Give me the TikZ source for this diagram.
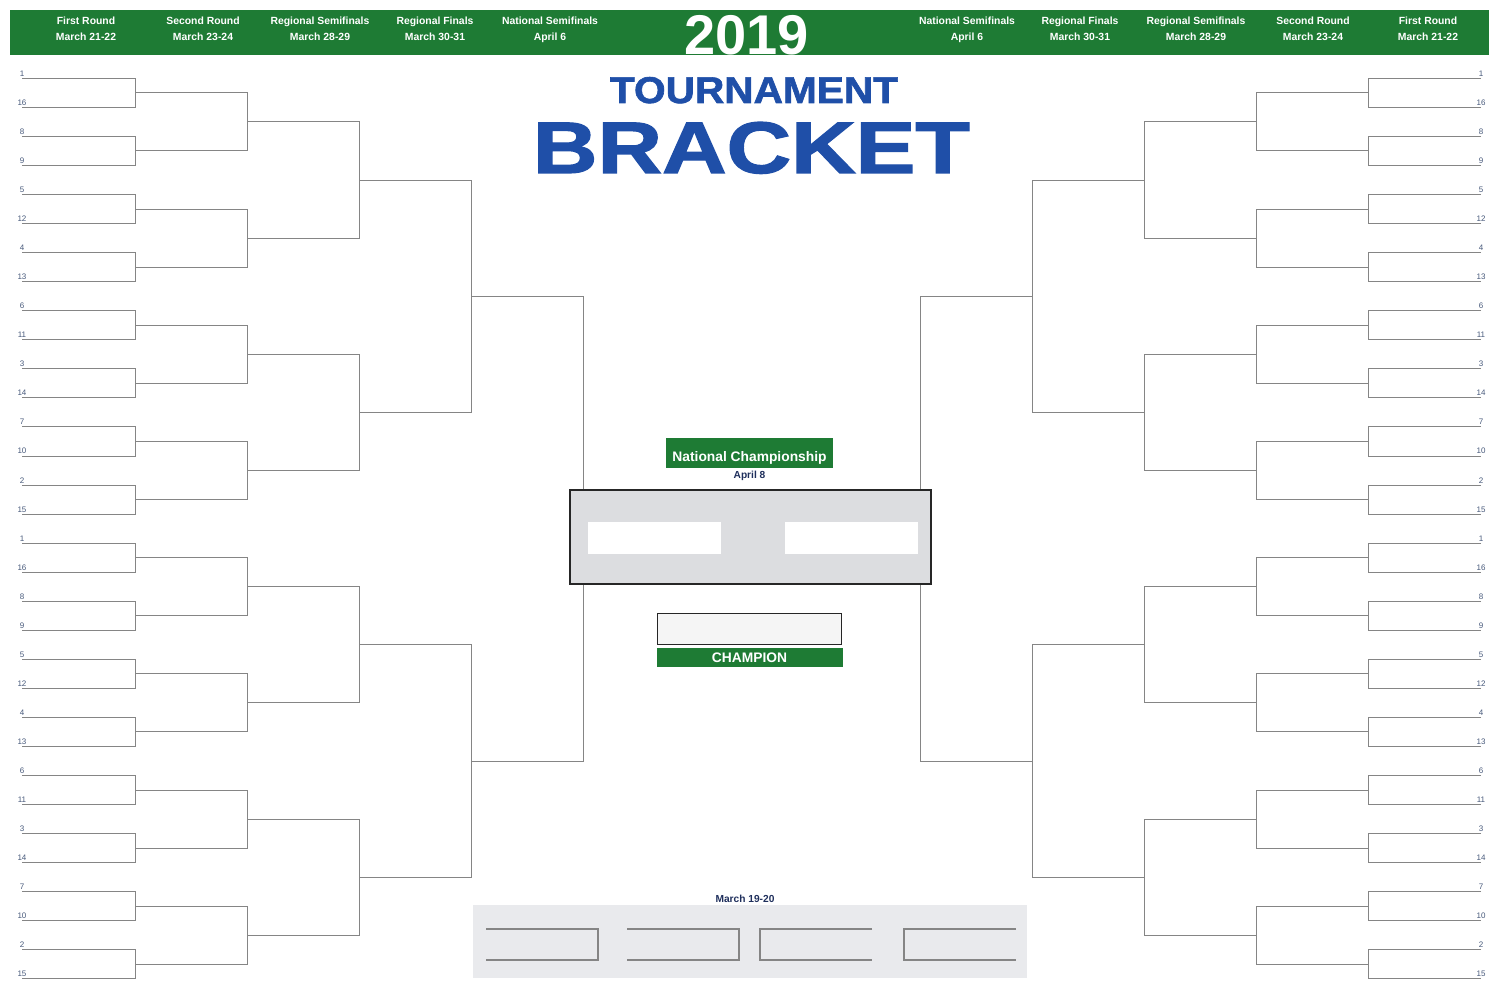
\documentclass[tikz,border=0pt]{standalone}
\usepackage{fontspec}
\setmainfont{Liberation Sans}
\newfontfamily\heavyfont[BoldFeatures={FakeBold=1.6}]{Liberation Sans}
\usepackage{graphicx}
\usepackage{tikz}
\usetikzlibrary{positioning,calc}

\definecolor{hdrgreen}{HTML}{1E7B34}
\definecolor{titleblue}{HTML}{1F4FA8}
\definecolor{navy}{HTML}{1F2F5C}
\definecolor{seedblue}{HTML}{46587A}
\definecolor{linegray}{HTML}{858585}
\definecolor{boxgray}{HTML}{DCDDE0}
\definecolor{panelgray}{HTML}{E9EAED}

\tikzset{
  bline/.style={draw=linegray, line width=0.9pt},
  seed/.style={font=\fontsize{8}{8}\selectfont, text=seedblue, anchor=base, inner sep=0pt, yshift=2pt},
  roundhdr/.style={font=\fontsize{10.4}{16}\selectfont\bfseries, text=white, align=center, inner sep=0pt},
  greenbar/.style={fill=hdrgreen, text=white, font=\fontsize{13.8}{14}\selectfont\bfseries, inner sep=0pt},
  datetxt/.style={font=\fontsize{10.2}{12}\selectfont\bfseries, text=navy, inner sep=0pt},
  slot/.style={draw=linegray, line width=1.2pt},
}
\newcommand{\hdr}[2]{\strut#1\\\strut#2}

\begin{document}
\begin{tikzpicture}[x=1pt, y=-1pt]
    \useasboundingbox (0,0) rectangle (1500,1000);

    % Header bar
    \fill[hdrgreen] (10,10) rectangle (1489,55);
    \node[roundhdr] (hdrL1) at (86,29.5) {\hdr{First Round}{March 21-22}};
    \node[roundhdr] (hdrL2) at (203,29.5) {\hdr{Second Round}{March 23-24}};
    \node[roundhdr] (hdrL3) at (320,29.5) {\hdr{Regional Semifinals}{March 28-29}};
    \node[roundhdr] (hdrL4) at (435,29.5) {\hdr{Regional Finals}{March 30-31}};
    \node[roundhdr] (hdrL5) at (550,29.5) {\hdr{National Semifinals}{April 6}};
    \node[roundhdr] (hdrR5) at (967,29.5) {\hdr{National Semifinals}{April 6}};
    \node[roundhdr] (hdrR4) at (1080,29.5) {\hdr{Regional Finals}{March 30-31}};
    \node[roundhdr] (hdrR3) at (1196,29.5) {\hdr{Regional Semifinals}{March 28-29}};
    \node[roundhdr] (hdrR2) at (1313,29.5) {\hdr{Second Round}{March 23-24}};
    \node[roundhdr] (hdrR1) at (1428,29.5) {\hdr{First Round}{March 21-22}};
    \node[anchor=base, inner sep=0pt, text=white, font=\fontsize{56}{56}\selectfont\bfseries] (year) at (746.5,54.5) {2019};

    % Title
    \node[anchor=base, inner sep=0pt, text=titleblue] (title1) at (754,103)
        {\resizebox{288pt}{26pt}{\heavyfont\bfseries TOURNAMENT}};
    \node[anchor=base, inner sep=0pt, text=titleblue] (title2) at (751.5,173)
        {\resizebox{437pt}{51pt}{\heavyfont\bfseries BRACKET}};

    % Brackets, left side and mirrored right side
    \foreach \side in {0,1} {
      \begin{scope}[xshift=\side*1503pt, xscale={1-2*\side}]
        \foreach \k/\xa/\xb in {0/22/135, 1/135/247, 2/247/359, 3/359/471, 4/471/583} {
          \pgfmathtruncatemacro{\n}{16/2^\k - 1}
          \foreach \j in {0,...,\n} {
            \pgfmathsetmacro{\ya}{78.3 + (2^\k*2*\j + (2^\k-1)/2)*29.05}
            \pgfmathsetmacro{\yb}{\ya + 2^\k*29.05}
            \draw[bline] (\xa,\ya) -- (\xb,\ya) -- (\xb,\yb) -- (\xa,\yb);
          }
        }
        % Seeds
        \foreach \sd [count=\i from 0] in {1,16,8,9,5,12,4,13,6,11,3,14,7,10,2,15,1,16,8,9,5,12,4,13,6,11,3,14,7,10,2,15}
          \node[seed] (seed-\side-\i) at (22,{78.3+\i*29.05}) {\sd};
      \end{scope}
    }

    % National Championship
    \node[greenbar, minimum width=167pt, minimum height=30pt, text height=16.8pt, text depth=0pt] (natchamp) at (749.5,453.3) {National Championship};
    \node[datetxt] (finaldate) at (749.5,476) {April 8};
    \draw[fill=boxgray, draw=black!85, line width=1.2pt] (570,490) rectangle (931,584);
    \fill[white] (588,522) rectangle (721,554);
    \fill[white] (785,522) rectangle (918,554);

    % Champion
    \node[draw=black!85, line width=1.2pt, fill=black!4, minimum width=184pt, minimum height=31pt, inner sep=0pt] (champbox) at (749.5,629) {};
    \node[greenbar, minimum width=186pt, minimum height=18.5pt, below=3pt of champbox] (champ) {CHAMPION};

    % First Four
    \node[datetxt] (ffdate) at (745,898.5) {March 19-20};
    \fill[panelgray] (473,905) rectangle (1027,978);
    \draw[slot] (486,929) -- (598,929) -- (598,960) -- (486,960);
    \draw[slot] (627,929) -- (739,929) -- (739,960) -- (627,960);
    \draw[slot] (872,929) -- (760,929) -- (760,960) -- (872,960);
    \draw[slot] (1016,929) -- (904,929) -- (904,960) -- (1016,960);
\end{tikzpicture}
\end{document}
